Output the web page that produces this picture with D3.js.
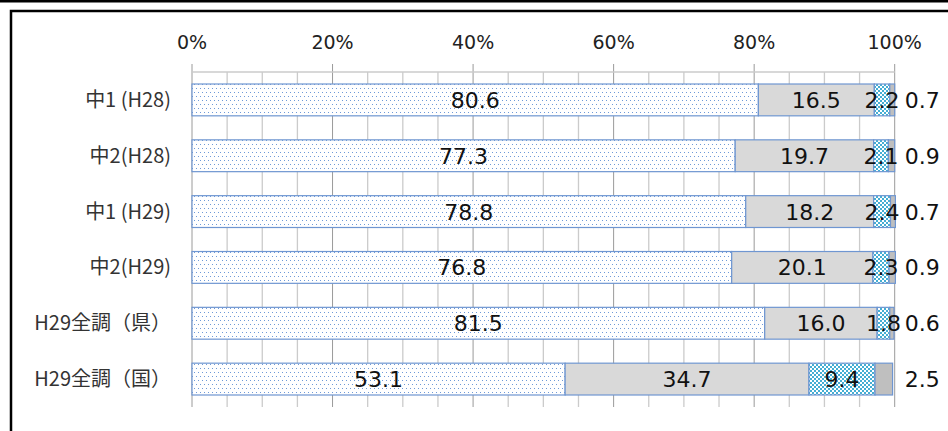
<!DOCTYPE html>
<html>
<head>
<meta charset="utf-8">
<script src="https://cdn.jsdelivr.net/npm/d3@7"></script>
<style>
  html, body { margin: 0; padding: 0; background: #fff; }
  svg { display: block; }
</style>
</head>
<body>
<div id="chart"></div>
<script>
// Data
const categories = ['中1 (H28)', '中2(H28)', '中1 (H29)', '中2(H29)', 'H29全調（県）', 'H29全調（国）'];
const series1 = [80.6, 77.3, 78.8, 76.8, 81.5, 53.1];
const series2 = [16.5, 19.7, 18.2, 20.1, 16.0, 34.7];
const series3 = [2.2, 2.1, 2.4, 2.3, 1.8, 9.4];
const series4 = [0.7, 0.9, 0.7, 0.9, 0.6, 2.5];
const tickValues = [0, 20, 40, 60, 80, 100];

const W = 948, H = 431;
const PLOT = { left: 192, right: 894.7, top: 72, bottom: 407 };
const COLORS = {
    stroke: '#6f96d1',
    dots: '#6f9ad8',
    grey: '#d9d9d9',
    cyan: '#45aed3',
    darkGrey: '#bfbfbf',
    major: '#9a9a9a',
    minor: '#cbcbcb'
};

const keys = ['s1', 's2', 's3', 's4'];
const rows = categories.map((c, i) => ({
    cat: c, s1: series1[i], s2: series2[i], s3: series3[i], s4: series4[i]
}));

const svg = d3.select('#chart').append('svg')
    .attr('width', W)
    .attr('height', H);

// Patterns
const defs = svg.append('defs');
const dotPat = defs.append('pattern')
    .attr('id', 'dots')
    .attr('patternUnits', 'userSpaceOnUse')
    .attr('width', 4).attr('height', 8);
dotPat.append('rect').attr('width', 4).attr('height', 8).attr('fill', '#fff');
dotPat.append('rect').attr('x', 0).attr('y', 0).attr('width', 1).attr('height', 1).attr('fill', COLORS.dots);
dotPat.append('rect').attr('x', 2).attr('y', 4).attr('width', 1).attr('height', 1).attr('fill', COLORS.dots);

const checkPat = defs.append('pattern')
    .attr('id', 'check')
    .attr('patternUnits', 'userSpaceOnUse')
    .attr('width', 4).attr('height', 4);
checkPat.append('rect').attr('width', 4).attr('height', 4).attr('fill', '#fff');
checkPat.append('rect').attr('x', 0).attr('y', 0).attr('width', 2).attr('height', 2).attr('fill', COLORS.cyan);
checkPat.append('rect').attr('x', 2).attr('y', 2).attr('width', 2).attr('height', 2).attr('fill', COLORS.cyan);

const fills = { s1: 'url(#dots)', s2: COLORS.grey, s3: 'url(#check)', s4: COLORS.darkGrey };

// Frame
svg.append('line')
    .attr('x1', 0).attr('x2', W).attr('y1', 1.2).attr('y2', 1.2)
    .attr('stroke', '#000').attr('stroke-width', 2.5);
svg.append('rect')
    .attr('x', 11).attr('y', 11)
    .attr('width', W + 20).attr('height', H + 20)
    .attr('fill', 'none')
    .attr('stroke', '#000').attr('stroke-width', 2.5);

// Scales
const x = d3.scaleLinear().domain([0, 100]).range([PLOT.left, PLOT.right]);
const y = d3.scaleBand().domain(categories).range([PLOT.top, PLOT.bottom]).paddingInner(0.43).paddingOuter(0.215);

// Minor gridlines
svg.append('g')
    .selectAll('line')
    .data(x.ticks(25).filter(d => d % 20 !== 0))
    .join('line')
    .attr('x1', d => x(d)).attr('x2', d => x(d))
    .attr('y1', PLOT.top).attr('y2', PLOT.bottom)
    .attr('stroke', COLORS.minor).attr('stroke-width', 1.3);

// Major gridlines + ticks
svg.append('g')
    .selectAll('line')
    .data(tickValues)
    .join('line')
    .attr('x1', d => x(d)).attr('x2', d => x(d))
    .attr('y1', PLOT.top - 8).attr('y2', PLOT.bottom)
    .attr('stroke', COLORS.major).attr('stroke-width', 1);

// Top axis line
svg.append('line')
    .attr('x1', PLOT.left).attr('x2', PLOT.right)
    .attr('y1', PLOT.top).attr('y2', PLOT.top)
    .attr('stroke', COLORS.minor).attr('stroke-width', 1.3);

// Axis labels
svg.append('g')
    .selectAll('text')
    .data(tickValues)
    .join('text')
    .attr('x', d => x(d))
    .attr('y', 48.5)
    .attr('text-anchor', 'middle')
    .attr('font-family', 'DejaVu Sans')
    .attr('font-size', 19)
    .attr('fill', '#222')
    .text(d => d + '%');

// Category labels
svg.append('g')
    .selectAll('text')
    .data(categories)
    .join('text')
    .attr('x', 171)
    .attr('y', d => y(d) + y.bandwidth() / 2 + 7)
    .attr('text-anchor', 'end')
    .attr('font-family', '"Noto Sans CJK JP"')
    .attr('font-size', 20)
    .attr('fill', '#333')
    .text(d => d);

// Bars
const stacked = d3.stack().keys(keys)(rows);
const layers = svg.append('g')
    .selectAll('g')
    .data(stacked)
    .join('g')
    .attr('fill', d => fills[d.key]);

layers.selectAll('rect')
    .data(d => d)
    .join('rect')
    .attr('x', d => x(d[0]))
    .attr('y', d => y(d.data.cat))
    .attr('width', d => x(d[1]) - x(d[0]))
    .attr('height', y.bandwidth())
    .attr('stroke', COLORS.stroke)
    .attr('stroke-width', 1.2);

// Data labels
const labels = svg.append('g')
    .attr('font-family', 'DejaVu Sans')
    .attr('font-size', 22)
    .attr('fill', '#111');

stacked.forEach(layer => {
    labels.selectAll(null)
        .data(layer)
        .join('text')
        .attr('x', d => layer.key === 's4' ? x(100) + 10 : x((d[0] + d[1]) / 2))
        .attr('y', d => y(d.data.cat) + y.bandwidth() / 2 + 8)
        .attr('text-anchor', layer.key === 's4' ? 'start' : 'middle')
        .text(d => d.data[layer.key].toFixed(1));
});
</script>
</body>
</html>
